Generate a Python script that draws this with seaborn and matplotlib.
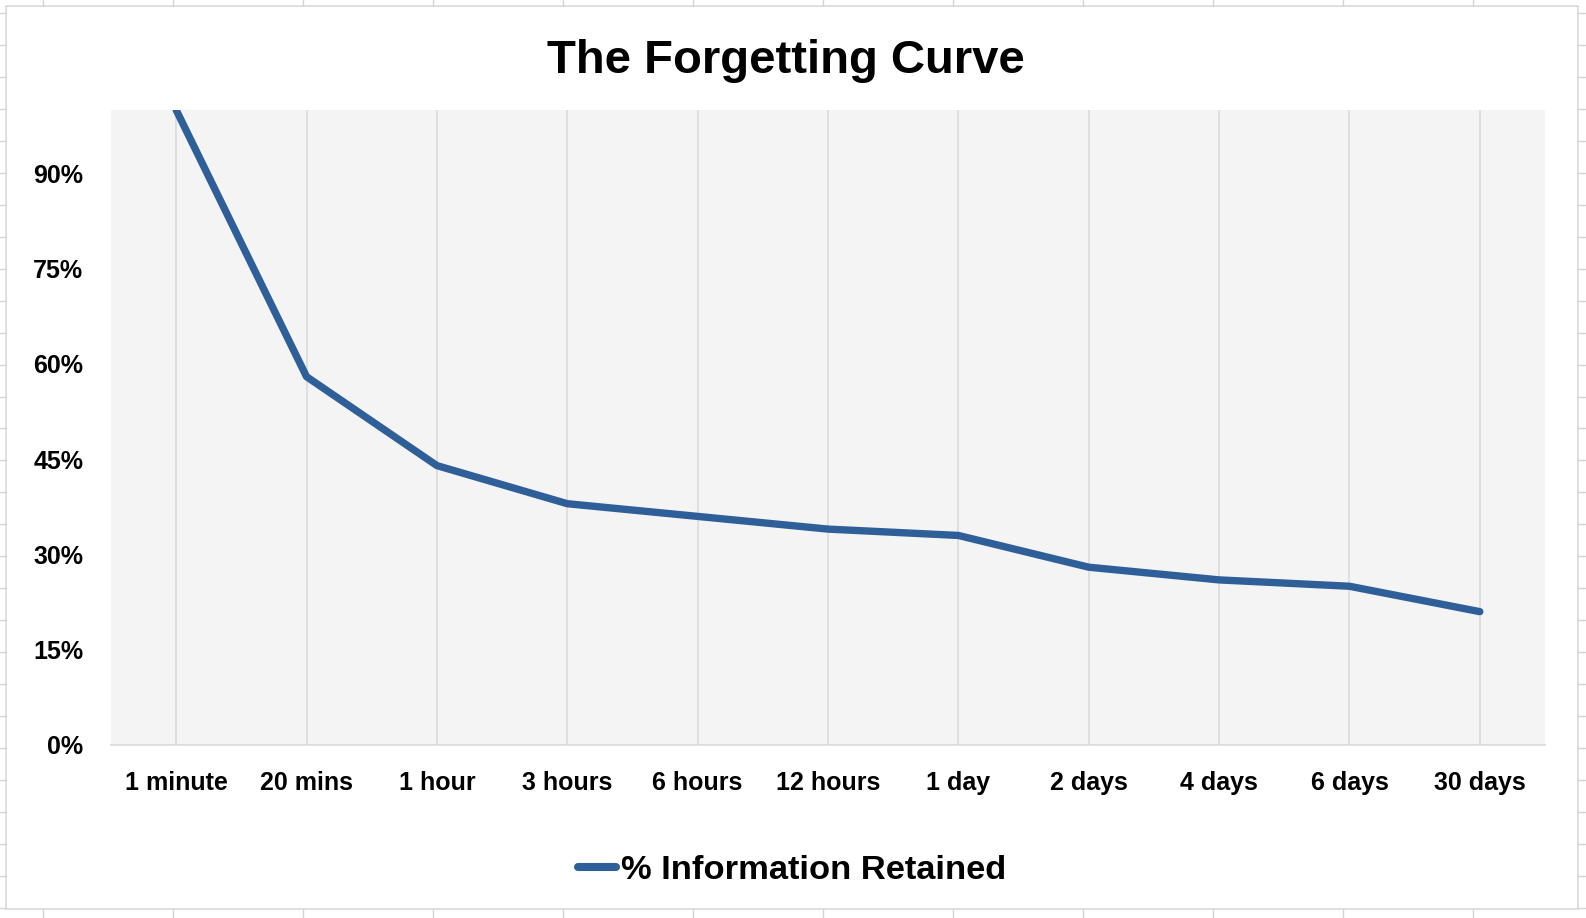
import matplotlib
matplotlib.use("Agg")
import matplotlib.pyplot as plt
import seaborn as sns
import pandas as pd
from matplotlib.lines import Line2D
from matplotlib.patches import Rectangle

# ---- data ----
categories = ["1 minute", "20 mins", "1 hour", "3 hours", "6 hours", "12 hours",
              "1 day", "2 days", "4 days", "6 days", "30 days"]
retained = [100, 58, 44, 38, 36, 34, 33, 28, 26, 25, 21]
y_ticks = [0, 15, 30, 45, 60, 75, 90]
y_tick_labels = ["0%", "15%", "30%", "45%", "60%", "75%", "90%"]
series_name = "% Information Retained"
title = "The Forgetting Curve"

# ---- style ----
sns.set_theme(style="white")
plt.rcParams["font.family"] = ["Liberation Sans", "DejaVu Sans"]
plt.rcParams["font.weight"] = "bold"
plt.rcParams["text.color"] = "black"

W, H = 1586, 918
LINE_COLOR = "#2f5f98"
GRID_COLOR = "#d9d9d9"
SHEET_COLOR = "#d4d4d4"

fig = plt.figure(figsize=(W / 100, H / 100), dpi=100)
fig.patch.set_facecolor("white")

# spreadsheet grid around chart
for k in range(12):
    x = (43 + 130 * k) / W
    fig.add_artist(Line2D([x, x], [1, 1 - 6 / H], color=SHEET_COLOR, lw=1.0))
    fig.add_artist(Line2D([x, x], [1 - 909 / H, 0], color=SHEET_COLOR, lw=1.0))
for k in range(29):
    y = 1 - (13 + 31.96 * k) / H
    fig.add_artist(Line2D([0, 6 / W], [y, y], color=SHEET_COLOR, lw=1.0))
    fig.add_artist(Line2D([1578 / W, 1], [y, y], color=SHEET_COLOR, lw=1.0))

# chart border
fig.add_artist(Rectangle((6 / W, 1 - 909 / H), (1578 - 6) / W, (909 - 6) / H,
                         transform=fig.transFigure, fill=False,
                         edgecolor=GRID_COLOR, lw=1.2))

ax = fig.add_axes([111 / W, 1 - 745 / H, (1545 - 111) / W, (745 - 110) / H])
ax.set_facecolor("#f4f4f4")

df = pd.DataFrame({"Time": categories, "Retained": retained})
sns.lineplot(data=df, x="Time", y="Retained", ax=ax, color=LINE_COLOR,
             linewidth=5.3, sort=False, legend=False)
for ln in ax.lines:
    ln.set_solid_capstyle("round")
    ln.set_solid_joinstyle("round")

ax.set_xlim(-0.5, len(categories) - 0.5)
ax.set_ylim(0, 100)
ax.set_yticks(y_ticks, y_tick_labels)
ax.set_xlabel("")
ax.set_ylabel("")

ax.grid(axis="x", color=GRID_COLOR, lw=1.1)
ax.grid(axis="y", visible=False)
ax.set_axisbelow(True)

for s in ["top", "right", "left"]:
    ax.spines[s].set_visible(False)
ax.spines["bottom"].set_color(GRID_COLOR)
ax.spines["bottom"].set_linewidth(1.2)

ax.tick_params(axis="both", length=0, labelsize=18, labelcolor="black")
ax.tick_params(axis="x", pad=19)
ax.tick_params(axis="y", pad=20)
for lbl in ax.get_xticklabels() + ax.get_yticklabels():
    lbl.set_fontweight("bold")

fig.text(786 / W, 1 - 73 / H, title, ha="center", va="baseline",
         fontsize=34, fontweight="bold", color="black")

handle = Line2D([], [], color=LINE_COLOR, lw=5.8, solid_capstyle="round")
fig.legend([handle], [series_name], loc="center",
           bbox_to_anchor=(792 / W, 1 - 870 / H), bbox_transform=fig.transFigure,
           frameon=False, handlelength=1.1, handletextpad=0.15,
           prop={"weight": "bold", "size": 24.8})

fig.savefig("out.png", dpi=100)
